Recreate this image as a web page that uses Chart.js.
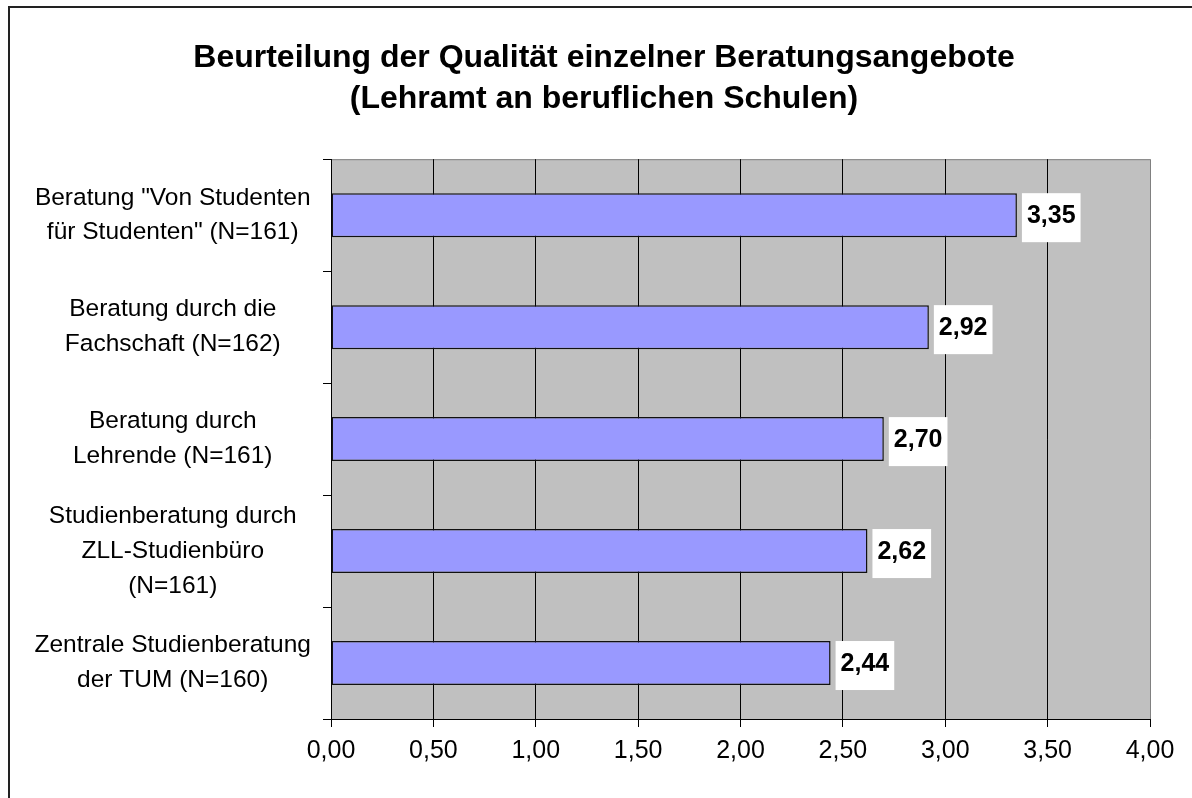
<!DOCTYPE html>
<html lang="de">
<head>
    <meta charset="UTF-8">
    <title>Beurteilung der Qualität einzelner Beratungsangebote</title>
    <script src="https://cdn.jsdelivr.net/npm/chart.js"></script>
    <style>
        html, body { margin: 0; padding: 0; background: #fff; overflow: hidden; }
        #wrap { position: relative; width: 1192px; height: 798px; }
        /* Rahmen des Diagrammbereichs (läuft rechts und unten aus dem Bild) */
        #rahmen { position: absolute; left: 8px; top: 6px; width: 1300px; height: 900px; border: 2px solid #222; }
        #grafik { position: absolute; left: 0; top: 0; }
    </style>
</head>
<body>
<div id="wrap">
    <div id="rahmen"></div>
    <canvas id="grafik" width="1192" height="798"></canvas>
</div>
<script>
    // Daten aus dem Diagramm
    const titel = ["Beurteilung der Qualität einzelner Beratungsangebote", "(Lehramt an beruflichen Schulen)"];
    const kategorien = [
        ["Beratung \"Von Studenten", "für Studenten\" (N=161)"],
        ["Beratung durch die", "Fachschaft (N=162)"],
        ["Beratung durch", "Lehrende (N=161)"],
        ["Studienberatung durch", "ZLL-Studienbüro", "(N=161)"],
        ["Zentrale Studienberatung", "der TUM (N=160)"]
    ];
    const mittelwerte = [3.35, 2.92, 2.70, 2.62, 2.44];
    const achseMin = 0;
    const achseMax = 4;
    const schritt = 0.5;

    const schrift = "'Liberation Sans', Arial, sans-serif";
    const komma = v => v.toFixed(2).replace(".", ",");

    // grauer Hintergrund der Zeichenfläche + grauer Rand oben
    const hintergrund = {
        id: "hintergrund",
        afterLayout(chart) {
            // Titel sitzt im Original etwas rechts der Mitte
            if (chart.titleBlock) {
                chart.titleBlock.left += 24;
                chart.titleBlock.right += 24;
            }
        },
        beforeDraw(chart) {
            const { ctx, chartArea: a } = chart;
            ctx.save();
            ctx.fillStyle = "#C0C0C0";
            ctx.fillRect(a.left, a.top, a.right - a.left, a.bottom - a.top);
            ctx.strokeStyle = "#808080";
            ctx.lineWidth = 1;
            ctx.beginPath();
            ctx.moveTo(a.left, a.top + 0.5);
            ctx.lineTo(a.right, a.top + 0.5);
            ctx.stroke();
            ctx.restore();
        }
    };

    // Werte in weißen Kästchen rechts neben den Balken
    const wertBeschriftung = {
        id: "wertBeschriftung",
        afterDatasetsDraw(chart) {
            const { ctx } = chart;
            const meta = chart.getDatasetMeta(0);
            ctx.save();
            ctx.font = "bold 25px " + schrift;
            ctx.textBaseline = "middle";
            ctx.textAlign = "center";
            meta.data.forEach((bar, i) => {
                const text = komma(mittelwerte[i]);
                const w = ctx.measureText(text).width + 10;
                const links = bar.x + 5;
                ctx.fillStyle = "#fff";
                ctx.fillRect(links, bar.y - 22, w, 49);
                ctx.fillStyle = "#000";
                ctx.fillText(text, links + w / 2, bar.y + 1);
            });
            ctx.restore();
        }
    };

    new Chart(document.getElementById("grafik"), {
        type: "bar",
        data: {
            labels: kategorien,
            datasets: [{
                data: mittelwerte,
                backgroundColor: "#9999FF",
                borderColor: "#111",
                borderWidth: 1.5,
                borderSkipped: false,
                barPercentage: 0.393,
                categoryPercentage: 1
            }]
        },
        options: {
            indexAxis: "y",
            responsive: false,
            animation: false,
            devicePixelRatio: 1,
            // rechts 42: mehr als halbe Breite von "4,00" plus Abstand
            layout: { padding: { left: 10, right: 42, top: 0, bottom: 0 } },
            plugins: {
                legend: { display: false },
                tooltip: { enabled: false },
                title: {
                    display: true,
                    text: titel,
                    color: "#000",
                    font: { family: schrift, size: 32, weight: "bold", lineHeight: 1.3 },
                    padding: { top: 37, bottom: 39 }
                }
            },
            scales: {
                x: {
                    min: achseMin,
                    max: achseMax,
                    afterFit: s => { s.height = 79; },
                    ticks: {
                        stepSize: schritt,
                        callback: v => komma(v),
                        color: "#000",
                        font: { family: schrift, size: 25 },
                        padding: 9
                    },
                    grid: {
                        color: c => (c.tick && c.tick.value === achseMax) ? "#808080" : "#000",
                        tickColor: "#000",
                        tickLength: 8,
                        lineWidth: 1
                    },
                    border: { color: "#000", width: 1 }
                },
                y: {
                    afterFit: s => { s.width = 321; },
                    ticks: {
                        crossAlign: "center",
                        color: "#000",
                        font: { family: schrift, size: 24.5, lineHeight: 1.42 },
                        padding: 12
                    },
                    grid: {
                        drawOnChartArea: false,
                        offset: true,
                        color: "#000",
                        tickLength: 8
                    },
                    border: { color: "#000", width: 1 }
                }
            }
        },
        plugins: [hintergrund, wertBeschriftung]
    });
</script>
</body>
</html>
